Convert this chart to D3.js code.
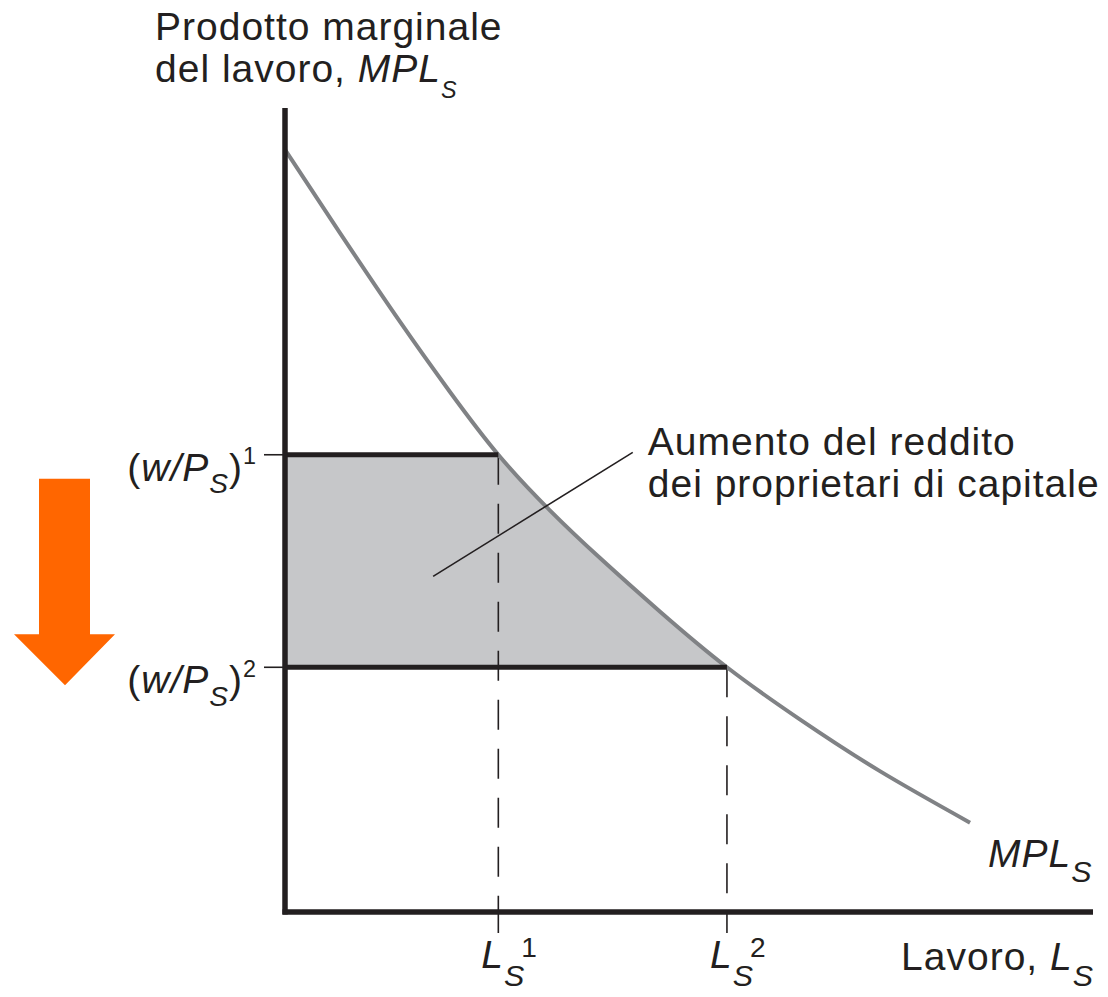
<!DOCTYPE html>
<html>
<head>
<meta charset="utf-8">
<script src="https://cdn.jsdelivr.net/npm/d3@7/dist/d3.min.js"></script>
<style>
  html, body { margin: 0; padding: 0; background: #ffffff; }
  svg { display: block; }
  text { font-family: "Liberation Sans", Arial, Helvetica, sans-serif; fill: #231f20; letter-spacing: 1px; }
</style>
</head>
<body>
<svg id="chart" width="1108" height="997"></svg>
<script>
// Marginal product of labour curve (labour L, MPL), read as points
const curveL   = [0, 6.8, 14.3, 20.5, 26.5, 32.9, 39.1, 46.6, 54.9, 64.0, 73.9, 85.1];
const curveMPL = [94.7, 84.4, 73.3, 64.6, 56.8, 49.9, 44.0, 37.3, 30.4, 23.9, 17.5, 11.1];

// Equilibrium levels: real wage and labour before (1) and after (2)
const wageLevels   = [56.8, 30.4];
const labourLevels = [26.5, 54.9];

// Tick labels
const wageTickLabels = [
  [{t: "("}, {t: "w/P", i: true}, {t: "S", i: true, sub: true}, {t: ")"}, {t: "1", sup: true}],
  [{t: "("}, {t: "w/P", i: true}, {t: "S", i: true, sub: true}, {t: ")"}, {t: "2", sup: true}]
];
const labourTickLabels = [
  [{t: "L", i: true}, {t: "S", i: true, sub: true}, {t: "1", sup: true, dx: -4}],
  [{t: "L", i: true}, {t: "S", i: true, sub: true}, {t: "2", sup: true, dx: -4}]
];

// Leader line of the annotation, in data units [L, MPL]
const leaderLine = [[18.4, 41.7], [43.2, 57.1]];
const annotationLines = ["Aumento del reddito", "dei proprietari di capitale"];

const svg = d3.select("#chart");
const ink = "#231f20";

const x = d3.scaleLinear().domain([0, 100]).range([285, 1090]);
const y = d3.scaleLinear().domain([0, 100]).range([912, 107]);

const curvePts = curveL.map((l, k) => [l, curveMPL[k]]);
const lineGen = d3.line().x(d => x(d[0])).y(d => y(d[1])).curve(d3.curveNatural);

// Rich text helper: italic, subscript, superscript parts
function richText(sel, px, py, parts, opts = {}) {
  const size = opts.size || 39;
  const t = sel.append("text")
    .attr("x", px).attr("y", py)
    .attr("font-size", size)
    .attr("text-anchor", opts.anchor || "start");
  let shift = 0;
  parts.forEach(p => {
    let target = 0, fs = size;
    if (p.sub) { target = size * (opts.subShift || 0.32); fs = size * (opts.subSize || 0.78); }
    if (p.sup) { target = -size * (opts.supShift || 0.42); fs = size * (opts.supSize || 0.62); }
    const ts = t.append("tspan")
      .attr("dy", target - shift)
      .attr("font-size", fs)
      .attr("font-style", p.i ? "italic" : "normal")
      .text(p.t);
    if (p.dx) ts.attr("dx", p.dx);
    shift = target;
  });
  return t;
}

// Shaded area: wage band between the two levels, bounded by the curve
const defs = svg.append("defs");
defs.append("clipPath").attr("id", "underCurve")
  .append("path")
  .attr("d", d3.area().x(d => x(d[0])).y0(y(0)).y1(d => y(d[1])).curve(d3.curveNatural)(curvePts));

svg.append("rect")
  .attr("clip-path", "url(#underCurve)")
  .attr("x", x(0))
  .attr("y", y(wageLevels[0]))
  .attr("width", x(labourLevels[1]) - x(0))
  .attr("height", y(wageLevels[1]) - y(wageLevels[0]))
  .attr("fill", "#c6c7c9");

// Dashed drop lines from the curve to the labour axis
labourLevels.forEach((l, k) => {
  svg.append("line")
    .attr("x1", x(l)).attr("x2", x(l))
    .attr("y1", y(wageLevels[k])).attr("y2", y(0))
    .attr("stroke", ink).attr("stroke-width", 1.6)
    .attr("stroke-dasharray", "30 19");
  // tick below the axis
  svg.append("line")
    .attr("x1", x(l)).attr("x2", x(l))
    .attr("y1", y(0)).attr("y2", y(0) + 21)
    .attr("stroke", ink).attr("stroke-width", 1.6);
});

// Wage ticks on the left of the vertical axis
wageLevels.forEach(w => {
  svg.append("line")
    .attr("x1", x(0) - 21).attr("x2", x(0))
    .attr("y1", y(w)).attr("y2", y(w))
    .attr("stroke", ink).attr("stroke-width", 1.6);
});

// MPL curve
svg.append("path")
  .attr("d", lineGen(curvePts))
  .attr("fill", "none")
  .attr("stroke", "#808285")
  .attr("stroke-width", 4);

// Thick horizontal wage lines
wageLevels.forEach((w, k) => {
  svg.append("line")
    .attr("x1", x(0)).attr("x2", x(labourLevels[k]))
    .attr("y1", y(w)).attr("y2", y(w))
    .attr("stroke", ink).attr("stroke-width", 5);
});

// Axes
svg.append("line")
  .attr("x1", x(0)).attr("x2", x(0))
  .attr("y1", y(100) + 1).attr("y2", y(0) + 2.5)
  .attr("stroke", ink).attr("stroke-width", 5.5);
svg.append("line")
  .attr("x1", x(0) - 2.5).attr("x2", x(100) + 3)
  .attr("y1", y(0)).attr("y2", y(0))
  .attr("stroke", ink).attr("stroke-width", 5.5);

// Annotation leader
svg.append("line")
  .attr("x1", x(leaderLine[0][0])).attr("y1", y(leaderLine[0][1]))
  .attr("x2", x(leaderLine[1][0])).attr("y2", y(leaderLine[1][1]))
  .attr("stroke", ink).attr("stroke-width", 1.6);

annotationLines.forEach((s, k) => {
  svg.append("text")
    .attr("x", x(leaderLine[1][0]) + 15)
    .attr("y", y(leaderLine[1][1]) + 3 + k * 42)
    .attr("font-size", 39)
    .text(s);
});

// Vertical axis title
svg.append("text").attr("x", 155).attr("y", 40).attr("font-size", 39).text("Prodotto marginale");
richText(svg, 155, 82, [{t: "del lavoro, "}, {t: "MPL", i: true}, {t: "S", i: true, sub: true}],
  {subSize: 0.6, subShift: 0.42});

// Horizontal axis title
richText(svg, 1094, 970, [{t: "Lavoro, "}, {t: "L", i: true}, {t: "S", i: true, sub: true}],
  {anchor: "end", subSize: 0.78, subShift: 0.4});

// Curve label
richText(svg, 988, 867, [{t: "MPL", i: true}, {t: "S", i: true, sub: true}],
  {subSize: 0.78, subShift: 0.38});

// Wage tick labels
wageLevels.forEach((w, k) => {
  richText(svg, 257, y(w) + 26, wageTickLabels[k], {anchor: "end", subSize: 0.72, subShift: 0.32, supSize: 0.6, supShift: 0.42});
});

// Labour tick labels
labourLevels.forEach((l, k) => {
  richText(svg, x(l) - 17, 968, labourTickLabels[k], {subSize: 0.78, subShift: 0.46, supSize: 0.72, supShift: 0.28});
});

// Downward arrow: fall of the real wage
const arrowTop = y(wageLevels[0]) + 24;
const arrowTip = y(wageLevels[1]) + 18;
const neck = arrowTip - 51;
svg.append("path")
  .attr("d", `M39,${arrowTop} L90,${arrowTop} L90,${neck} L115,${neck} L65,${arrowTip} L14,${neck} L39,${neck} Z`)
  .attr("fill", "#ff6600");
</script>
</body>
</html>
